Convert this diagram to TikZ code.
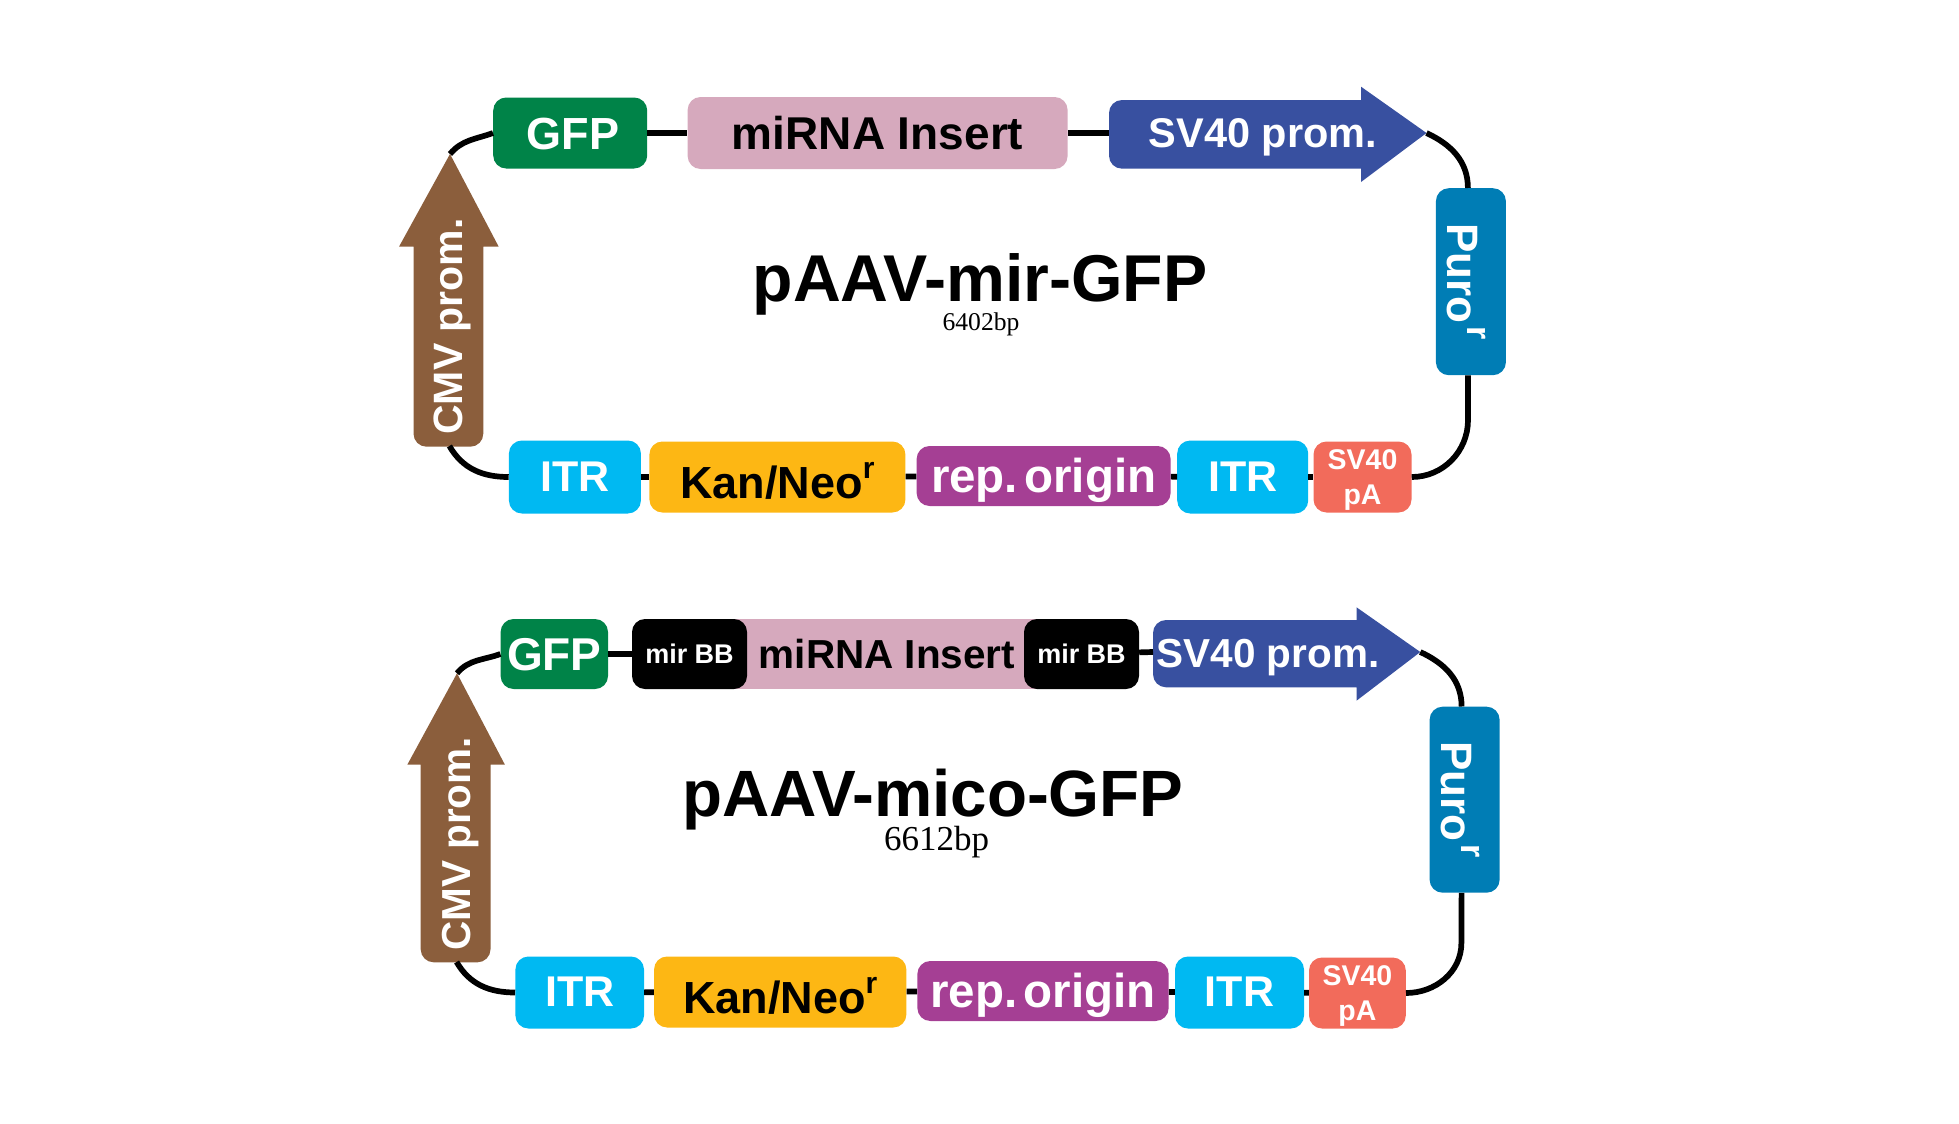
\documentclass[tikz,border=0pt]{standalone}
\usepackage{fontspec}
\setmainfont{Liberation Sans}
\newfontfamily\bpfont{Liberation Serif}
\definecolor{gfpgreen}{HTML}{008348}
\definecolor{insertpink}{HTML}{D6A9BD}
\definecolor{svblue}{HTML}{3850A0}
\definecolor{puroblue}{HTML}{007DB5}
\definecolor{cmvbrown}{HTML}{8B5E3C}
\definecolor{itrcyan}{HTML}{00B9F2}
\definecolor{kanyellow}{HTML}{FDB714}
\definecolor{reppurple}{HTML}{A53F94}
\definecolor{pared}{HTML}{F26B5B}
\newcommand{\sz}[1]{\bfseries\fontsize{#1}{#1}\selectfont}
\newcommand{\supr}[1]{\raisebox{20pt}{\fontsize{#1}{#1}\selectfont r}}
\tikzset{
  part/.style={shape=rectangle,rounded corners=13pt,inner sep=0pt,text=white,text depth=0pt},
  gfpbox/.style={part,fill=gfpgreen},
  itrbox/.style={part,fill=itrcyan,minimum width=130,minimum height=73,text height=28,font=\sz{43}},
  kanbox/.style={part,fill=kanyellow,text=black,minimum height=71,text height=43,font=\sz{45}},
  repbox/.style={part,fill=reppurple,minimum height=60,text height=33.5,font=\sz{47.5}},
  pabox/.style={shape=rectangle,rounded corners=13pt,inner sep=0pt,fill=pared,text=white,align=center,minimum height=71,font=\bfseries\fontsize{28.5}{35}\selectfont},
  purobox/.style={part,fill=puroblue,rotate=-90,minimum width=187,minimum height=70,text height=47.2,font=\sz{44}},
  bbbox/.style={part,fill=black,minimum width=115,minimum height=70,text height=18,font=\sz{27}},
  title/.style={anchor=base,text=black,inner sep=0pt},
  conn/.style={line width=5.7pt,draw=black}
}
\begin{document}
\begin{tikzpicture}[x=1pt,y=-1pt]
\useasboundingbox (0,0) rectangle (1959,1124);

\coordinate(svtailA) at (1109,133);
\coordinate(svtipA) at (1426.5,133);
\coordinate(cmvtipA) at (450,154);
\coordinate(cmvendA) at (449.4,446);
\coordinate(purobendA) at (1468,420);
\fill[svblue] (1361,182) -- (svtipA) -- (1361,86.7) -- (1361,100) [rounded corners=13pt] -- (1109,100) -- (1109,168.7) [sharp corners] -- (1361,168.7) -- cycle;
\fill[cmvbrown] (399,246.7) -- (cmvtipA) -- (498.7,246.7) -- (483.3,246.7) [rounded corners=13pt] -- (483.3,446.7) -- (413.5,446.7) [sharp corners] -- (413.5,246.7) -- cycle;
\node(gfpA) at (570.2,133)[gfpbox,minimum width=154,minimum height=71,text height=32,font=\sz{45}]{\hspace{6pt}GFP};
\node(mirnaA) at (877.6,133)[part,fill=insertpink,text=black,minimum width=380,minimum height=72,text height=32,font=\sz{46}]{miRNA Insert};
\node(svtextA) at (1263,147.3)[title,text=white,font=\sz{41.5}]{SV40 prom.};
\node(puroA) at (1470.9,281.7)[purobox]{Puro\hspace{3pt}\supr{34}};
\node(cmvtextA) at (462,326.5)[title,text=white,rotate=90,font=\sz{41}]{CMV prom.};
\node(itrA) at (574.9,477)[itrbox,minimum width=132]{ITR};
\node(kanA) at (777.4,477)[kanbox,minimum width=256]{Kan/Neo\supr{30}};
\node(repA) at (1043.6,476)[repbox,minimum width=254]{rep.\hspace{.13em}origin};
\node(itrbA) at (1242.7,477)[itrbox,minimum width=131]{ITR};
\node(paA) at (1362.5,477)[pabox,minimum width=98]{\rule{0pt}{25.5pt}SV40\\pA};
\node(titleA) at (980,301.7)[title,font=\sz{66.2}]{pAAV-mir-GFP};
\node(sizeA) at (981,330.7)[title,font=\bpfont\fontsize{25.6}{26}\selectfont]{6402bp};

\path [conn]
  (gfpA)      edge  (mirnaA)
  (mirnaA)    edge  (svtailA)
  (itrA)      edge  (kanA)
  (kanA)      edge  (repA)
  (repA)      edge  (itrbA)
  (itrbA)     edge  (paA)
  (gfpA.west) edge [out=200,in=50]   (cmvtipA)
  (cmvendA)   edge [out=-60,in=180]  (itrA.west)
  (svtipA)    edge [out=-25,in=90]   ([xshift=-3pt]puroA.west)
  ([xshift=-3pt]puroA.east) edge (purobendA)
  (purobendA) edge [out=-90,in=0]    (paA.east);

\coordinate(svtailB) at (1153,652);
\coordinate(svtipB) at (1420.3,652);
\coordinate(cmvtipB) at (457,673.3);
\coordinate(cmvendB) at (456.6,962);
\coordinate(purobendB) at (1461.4,943);
\fill[svblue] (1356.5,700.7) -- (svtipB) -- (1356.5,607.3) -- (1356.5,620) [rounded corners=13pt] -- (1153,620) -- (1153,687.3) [sharp corners] -- (1356.5,687.3) -- cycle;
\fill[cmvbrown] (407.3,764.7) -- (cmvtipB) -- (504.9,764.7) -- (490.5,764.7) [rounded corners=13pt] -- (490.5,962.3) -- (420.7,962.3) [sharp corners] -- (420.7,764.7) -- cycle;
\node(gfpB) at (554.3,654)[gfpbox,minimum width=107.4,minimum height=70,text height=32,font=\sz{46}]{GFP};
\node(mirnaB) at (887,654)[shape=rectangle,inner sep=0pt,fill=insertpink,text=black,minimum width=308,minimum height=70,text height=28,text depth=0pt,font=\sz{40.5}]{miRNA Insert};
\node(bbleftB) at (689.5,654)[bbbox]{mir BB};
\node(bbrightB) at (1081.5,654)[bbbox]{mir BB};
\node(svtextB) at (1268,667.7)[title,text=white,font=\sz{40.5}]{SV40 prom.};
\node(puroB) at (1464.6,799.7)[purobox,minimum width=186]{Puro\hspace{3pt}\supr{34}};
\node(cmvtextB) at (470,844)[title,text=white,rotate=90,font=\sz{40.5}]{CMV prom.};
\node(itrB) at (579.7,992.5)[itrbox,minimum width=128.6,minimum height=72]{ITR};
\node(kanB) at (780.2,992)[kanbox,minimum width=252.3,text height=42.6]{Kan/Neo\supr{30}};
\node(repB) at (1043,991)[repbox,minimum width=251.3]{rep.\hspace{.13em}origin};
\node(itrbB) at (1239.5,992.5)[itrbox,minimum width=129,minimum height=72]{ITR};
\node(paB) at (1357.4,993)[pabox,minimum width=96.8]{\rule{0pt}{25.5pt}SV40\\pA};
\node(titleB) at (933,816)[title,font=\sz{65.5}]{pAAV-mico-GFP};
\node(sizeB) at (936.6,850.7)[title,font=\bpfont\fontsize{35}{36}\selectfont]{6612bp};

\path [conn]
  (gfpB)      edge  (bbleftB)
  (bbrightB)  edge  (svtailB)
  (itrB)      edge  (kanB)
  (kanB)      edge  (repB)
  (repB)      edge  (itrbB)
  (itrbB)     edge  (paB)
  (gfpB.west) edge [out=200,in=50]   (cmvtipB)
  (cmvendB)   edge [out=-60,in=180]  (itrB.west)
  (svtipB)    edge [out=-25,in=90]   ([xshift=-3pt]puroB.west)
  ([xshift=-3pt]puroB.east) edge (purobendB)
  (purobendB) edge [out=-90,in=0]    (paB.east);
\end{tikzpicture}
\end{document}
